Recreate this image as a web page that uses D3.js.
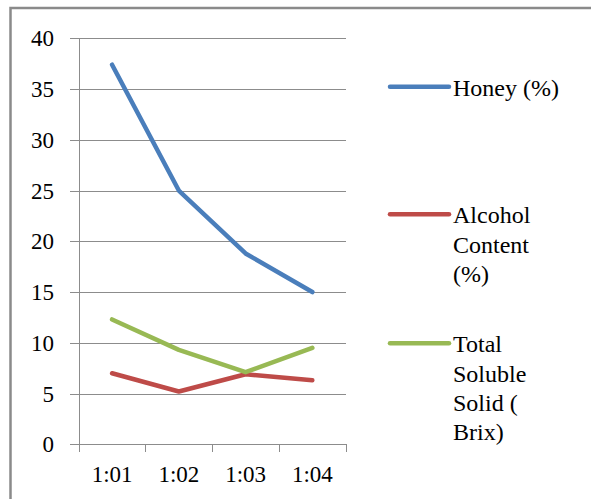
<!DOCTYPE html>
<html>
<head>
<meta charset="utf-8">
<script src="https://cdn.jsdelivr.net/npm/d3@7"></script>
<style>
    body { margin: 0; background: #fff; }
    text { font-family: "Liberation Serif", Tinos, "Noto Serif", FreeSerif, "DejaVu Serif", Times, serif; }
</style>
</head>
<body>
<svg id="chart"></svg>
<script>
// data
var categories = ['1:01', '1:02', '1:03', '1:04'];
var honey = [37.4, 25, 18.8, 15];
var alcohol = [7.0, 5.2, 6.9, 6.3];
var tss = [12.3, 9.3, 7.1, 9.5];
var yTicks = [0, 5, 10, 15, 20, 25, 30, 35, 40];

var series = [
    { name: ['Honey (%)'], values: honey, color: '#4a7ebb' },
    { name: ['Alcohol', 'Content', '(%)'], values: alcohol, color: '#be4b48' },
    { name: ['Total', 'Soluble', 'Solid (', 'Brix)'], values: tss, color: '#98b954' }
];

var width = 591, height = 499;
var svg = d3.select('#chart')
    .attr('width', width)
    .attr('height', height);

// frame: only top and left edges are visible in the crop
svg.append('path')
    .attr('d', 'M10.5,' + height + 'V8H' + width)
    .attr('fill', 'none')
    .attr('stroke', '#8a8a8a')
    .attr('stroke-width', 2.5);

var x = d3.scaleBand().domain(categories).range([78.7, 345.7]);
var y = d3.scaleLinear().domain([0, 40]).range([444.3, 38.3]);

// gridlines
svg.append('g')
    .selectAll('line')
    .data(yTicks)
    .enter()
    .append('line')
    .attr('x1', 70)
    .attr('x2', 346)
    .attr('y1', function(d) { return Math.round(y(d)) + 0.5; })
    .attr('y2', function(d) { return Math.round(y(d)) + 0.5; })
    .attr('stroke', '#8c8c8c')
    .attr('stroke-width', 1);

// y labels
svg.append('g')
    .selectAll('text')
    .data(yTicks)
    .enter()
    .append('text')
    .attr('x', 54)
    .attr('y', function(d) { return y(d) + 8; })
    .attr('text-anchor', 'end')
    .style('font-size', '23px')
    .text(function(d) { return d; });

// y axis line
svg.append('line')
    .attr('x1', 79.5).attr('x2', 79.5)
    .attr('y1', y(40)).attr('y2', 452)
    .attr('stroke', '#8c8c8c');

// x axis ticks between categories
var xTicks = categories.map(function(c) { return x(c); }).concat([x.range()[1]]);
svg.append('g')
    .selectAll('line')
    .data(xTicks)
    .enter()
    .append('line')
    .attr('x1', function(d) { return Math.round(d) + 0.5; })
    .attr('x2', function(d) { return Math.round(d) + 0.5; })
    .attr('y1', 444)
    .attr('y2', 452)
    .attr('stroke', '#8c8c8c');

svg.append('g')
    .selectAll('text')
    .data(categories)
    .enter()
    .append('text')
    .attr('x', function(d) { return x(d) + x.bandwidth() / 2; })
    .attr('y', 482)
    .attr('text-anchor', 'middle')
    .style('font-size', '23px')
    .text(function(d) { return d; });

// lines
var line = d3.line()
    .x(function(d, i) { return x(categories[i]) + x.bandwidth() / 2; })
    .y(function(d) { return y(d); });

svg.append('g')
    .selectAll('path')
    .data(series)
    .enter()
    .append('path')
    .attr('d', function(d) { return line(d.values); })
    .attr('fill', 'none')
    .attr('stroke', function(d) { return d.color; })
    .attr('stroke-width', 4.5)
    .attr('stroke-linejoin', 'round')
    .attr('stroke-linecap', 'round');

// legend
var legendY = [86.7, 214.3, 343.3];
var leg = svg.append('g')
    .selectAll('g')
    .data(series)
    .enter()
    .append('g')
    .attr('transform', function(d, i) { return 'translate(390,' + legendY[i] + ')'; });

leg.append('line')
    .attr('x1', 0).attr('x2', 59)
    .attr('stroke', function(d) { return d.color; })
    .attr('stroke-width', 4.5)
    .attr('stroke-linecap', 'round');

leg.append('text')
    .style('font-size', '24px')
    .selectAll('tspan')
    .data(function(d) { return d.name; })
    .enter()
    .append('tspan')
    .attr('x', 63)
    .attr('y', function(d, i) { return 9 + i * 29.3; })
    .text(function(d) { return d; });
</script>
</body>
</html>
